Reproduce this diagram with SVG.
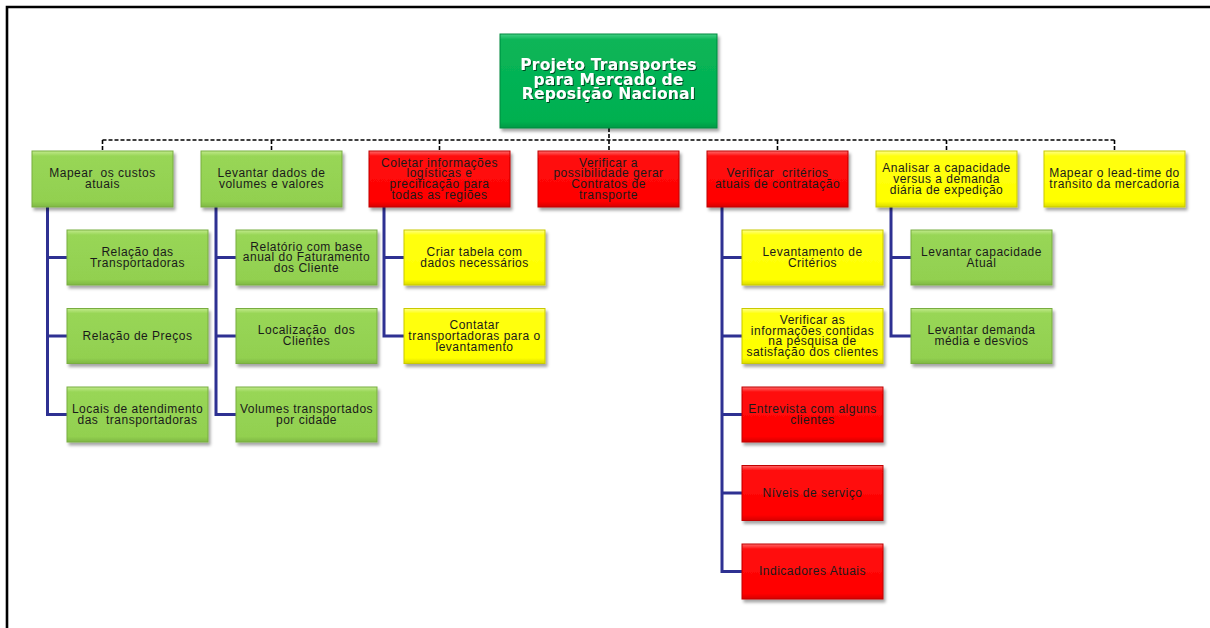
<svg xmlns="http://www.w3.org/2000/svg" width="1210" height="628" viewBox="0 0 1210 628">
  <defs>
    <linearGradient id="gGreen" x1="0" y1="0" x2="0" y2="1">
      <stop offset="0" stop-color="#C2EA8C"/>
      <stop offset="0.09" stop-color="#98D656"/>
      <stop offset="0.9" stop-color="#92D050"/>
      <stop offset="1" stop-color="#7FB843"/>
    </linearGradient>
    <linearGradient id="gRed" x1="0" y1="0" x2="0" y2="1">
      <stop offset="0" stop-color="#FF6A6A"/>
      <stop offset="0.09" stop-color="#FF0E0E"/>
      <stop offset="0.9" stop-color="#FF0000"/>
      <stop offset="1" stop-color="#D80000"/>
    </linearGradient>
    <linearGradient id="gYellow" x1="0" y1="0" x2="0" y2="1">
      <stop offset="0" stop-color="#FFFF8A"/>
      <stop offset="0.09" stop-color="#FFFF10"/>
      <stop offset="0.9" stop-color="#FFFF00"/>
      <stop offset="1" stop-color="#DADA00"/>
    </linearGradient>
    <linearGradient id="gRoot" x1="0" y1="0" x2="0" y2="1">
      <stop offset="0" stop-color="#45CF84"/>
      <stop offset="0.06" stop-color="#0AB558"/>
      <stop offset="0.93" stop-color="#00B050"/>
      <stop offset="1" stop-color="#009A45"/>
    </linearGradient>
    <filter id="shadow" x="-10%" y="-10%" width="125%" height="135%">
      <feDropShadow dx="2" dy="3" stdDeviation="1.4" flood-color="#000" flood-opacity="0.35"/>
    </filter>
    <filter id="textShadow" x="-10%" y="-20%" width="120%" height="150%">
      <feDropShadow dx="1" dy="1" stdDeviation="0.6" flood-color="#000" flood-opacity="0.6"/>
    </filter>
  </defs>
  <style>
    .box { filter: url(#shadow); stroke-width: 1; }
    .green { fill: url(#gGreen); stroke: #79AD40; }
    .red { fill: url(#gRed); stroke: #C00000; }
    .yellow { fill: url(#gYellow); stroke: #C9C900; }
    .root { fill: url(#gRoot); stroke: #008A3E; }
    .lbl { font-family: "Liberation Sans", Arial, sans-serif; font-size: 12px; letter-spacing: 0.5px; fill: #1A1A1A; text-anchor: middle; }
    .title { font-family: "DejaVu Sans", Verdana, sans-serif; font-size: 15.5px; font-weight: bold; letter-spacing: 0.2px; fill: #FFFFFF; text-anchor: middle; filter: url(#textShadow); }
    .dash { stroke: #000; stroke-width: 1.6; stroke-dasharray: 4 2; fill: none; }
    .tree { stroke: #2E3192; stroke-width: 3; fill: none; }
    .frame { stroke: #000; stroke-width: 2.6; fill: none; }
  </style>

  <!-- page frame -->
  <path class="frame" d="M7,628 V7 H1210"/>

  <!-- connectors -->
  <g id="connectors">
    <path class="dash" d="M609,128 V151"/>
    <path class="dash" d="M102.5,140 H1114.5"/>
    <path class="dash" d="M102.5,140 V151 M271.5,140 V151 M439.5,140 V151 M777.5,140 V151 M946.5,140 V151 M1114.5,140 V151"/>
    <!-- column 1 -->
    <path class="tree" d="M47.5,207 V414.5 H67 M47.5,257.5 H67 M47.5,336 H67"/>
    <!-- column 2 -->
    <path class="tree" d="M216,207 V414.5 H236 M216,257.5 H236 M216,336 H236"/>
    <!-- column 3 -->
    <path class="tree" d="M384,207 V336 H404 M384,257.5 H404"/>
    <!-- column 5 -->
    <path class="tree" d="M722,207 V571.5 H742 M722,257.5 H742 M722,336 H742 M722,414.5 H742 M722,493 H742"/>
    <!-- column 6 -->
    <path class="tree" d="M891,207 V336 H911 M891,257.5 H911"/>
  </g>

  <!-- root -->
  <g id="root">
    <rect class="box root" x="500" y="34" width="217" height="94"/>
    <text class="title" x="608.5" y="70">Projeto Transportes</text>
    <text class="title" x="608.5" y="84.7">para Mercado de</text>
    <text class="title" x="608.5" y="99.4">Reposição Nacional</text>
  </g>

  <!-- level 1 -->
  <g id="mapear-custos">
    <rect class="box green" x="32" y="151" width="141" height="56"/>
    <text class="lbl" x="102.5" y="177.4" xml:space="preserve">Mapear  os custos</text>
    <text class="lbl" x="102.5" y="188.1">atuais</text>
  </g>
  <g id="levantar-dados">
    <rect class="box green" x="201" y="151" width="141" height="56"/>
    <text class="lbl" x="271.5" y="177.4">Levantar dados de</text>
    <text class="lbl" x="271.5" y="188.1">volumes e valores</text>
  </g>
  <g id="coletar-informacoes">
    <rect class="box red" x="369" y="151" width="141" height="56"/>
    <text class="lbl" x="439.5" y="166.7">Coletar informações</text>
    <text class="lbl" x="439.5" y="177.4">logísticas e</text>
    <text class="lbl" x="439.5" y="188.1">precificação para</text>
    <text class="lbl" x="439.5" y="198.8">todas as regiões</text>
  </g>
  <g id="verificar-contratos">
    <rect class="box red" x="538" y="151" width="141" height="56"/>
    <text class="lbl" x="608.5" y="166.7">Verificar a</text>
    <text class="lbl" x="608.5" y="177.4">possibilidade gerar</text>
    <text class="lbl" x="608.5" y="188.1">Contratos de</text>
    <text class="lbl" x="608.5" y="198.8">transporte</text>
  </g>
  <g id="verificar-criterios">
    <rect class="box red" x="707" y="151" width="141" height="56"/>
    <text class="lbl" x="777.5" y="177.4" xml:space="preserve">Verificar  critérios</text>
    <text class="lbl" x="777.5" y="188.1">atuais de contratação</text>
  </g>
  <g id="analisar-capacidade">
    <rect class="box yellow" x="876" y="151" width="141" height="56"/>
    <text class="lbl" x="946.5" y="172.1">Analisar a capacidade</text>
    <text class="lbl" x="946.5" y="182.8">versus a demanda</text>
    <text class="lbl" x="946.5" y="193.5">diária de expedição</text>
  </g>
  <g id="mapear-leadtime">
    <rect class="box yellow" x="1044" y="151" width="141" height="56"/>
    <text class="lbl" x="1114.5" y="177.4">Mapear o lead-time do</text>
    <text class="lbl" x="1114.5" y="188.1">transito da mercadoria</text>
  </g>

  <!-- column 1 children -->
  <g id="relacao-transportadoras">
    <rect class="box green" x="67" y="230" width="141" height="55"/>
    <text class="lbl" x="137.5" y="255.9">Relação das</text>
    <text class="lbl" x="137.5" y="266.6">Transportadoras</text>
  </g>
  <g id="relacao-precos">
    <rect class="box green" x="67" y="308.5" width="141" height="55"/>
    <text class="lbl" x="137.5" y="339.8">Relação de Preços</text>
  </g>
  <g id="locais-atendimento">
    <rect class="box green" x="67" y="387" width="141" height="55"/>
    <text class="lbl" x="137.5" y="412.9">Locais de atendimento</text>
    <text class="lbl" x="137.5" y="423.6" xml:space="preserve">das  transportadoras</text>
  </g>

  <!-- column 2 children -->
  <g id="relatorio-faturamento">
    <rect class="box green" x="236" y="230" width="141" height="55"/>
    <text class="lbl" x="306.5" y="250.6">Relatório com base</text>
    <text class="lbl" x="306.5" y="261.3">anual do Faturamento</text>
    <text class="lbl" x="306.5" y="272">dos Cliente</text>
  </g>
  <g id="localizacao-clientes">
    <rect class="box green" x="236" y="308.5" width="141" height="55"/>
    <text class="lbl" x="306.5" y="334.4" xml:space="preserve">Localização  dos</text>
    <text class="lbl" x="306.5" y="345.1">Clientes</text>
  </g>
  <g id="volumes-cidade">
    <rect class="box green" x="236" y="387" width="141" height="55"/>
    <text class="lbl" x="306.5" y="412.9">Volumes transportados</text>
    <text class="lbl" x="306.5" y="423.6">por cidade</text>
  </g>

  <!-- column 3 children -->
  <g id="criar-tabela">
    <rect class="box yellow" x="404" y="230" width="141" height="55"/>
    <text class="lbl" x="474.5" y="255.9">Criar tabela com</text>
    <text class="lbl" x="474.5" y="266.6">dados necessários</text>
  </g>
  <g id="contatar-transportadoras">
    <rect class="box yellow" x="404" y="308.5" width="141" height="55"/>
    <text class="lbl" x="474.5" y="329.1">Contatar</text>
    <text class="lbl" x="474.5" y="339.8">transportadoras para o</text>
    <text class="lbl" x="474.5" y="350.5">levantamento</text>
  </g>

  <!-- column 5 children -->
  <g id="levantamento-criterios">
    <rect class="box yellow" x="742" y="230" width="141" height="55"/>
    <text class="lbl" x="812.5" y="255.9">Levantamento de</text>
    <text class="lbl" x="812.5" y="266.6">Critérios</text>
  </g>
  <g id="verificar-pesquisa">
    <rect class="box yellow" x="742" y="308.5" width="141" height="55"/>
    <text class="lbl" x="812.5" y="323.8">Verificar as</text>
    <text class="lbl" x="812.5" y="334.5">informações contidas</text>
    <text class="lbl" x="812.5" y="345.2">na pesquisa de</text>
    <text class="lbl" x="812.5" y="355.9">satisfação dos clientes</text>
  </g>
  <g id="entrevista-clientes">
    <rect class="box red" x="742" y="387" width="141" height="55"/>
    <text class="lbl" x="812.5" y="412.9">Entrevista com alguns</text>
    <text class="lbl" x="812.5" y="423.6">clientes</text>
  </g>
  <g id="niveis-servico">
    <rect class="box red" x="742" y="465.5" width="141" height="55"/>
    <text class="lbl" x="812.5" y="496.8">Níveis de serviço</text>
  </g>
  <g id="indicadores-atuais">
    <rect class="box red" x="742" y="544" width="141" height="55"/>
    <text class="lbl" x="812.5" y="575.3">Indicadores Atuais</text>
  </g>

  <!-- column 6 children -->
  <g id="levantar-capacidade">
    <rect class="box green" x="911" y="230" width="141" height="55"/>
    <text class="lbl" x="981.5" y="255.9">Levantar capacidade</text>
    <text class="lbl" x="981.5" y="266.6">Atual</text>
  </g>
  <g id="levantar-demanda">
    <rect class="box green" x="911" y="308.5" width="141" height="55"/>
    <text class="lbl" x="981.5" y="334.4">Levantar demanda</text>
    <text class="lbl" x="981.5" y="345.1">média e desvios</text>
  </g>
</svg>
